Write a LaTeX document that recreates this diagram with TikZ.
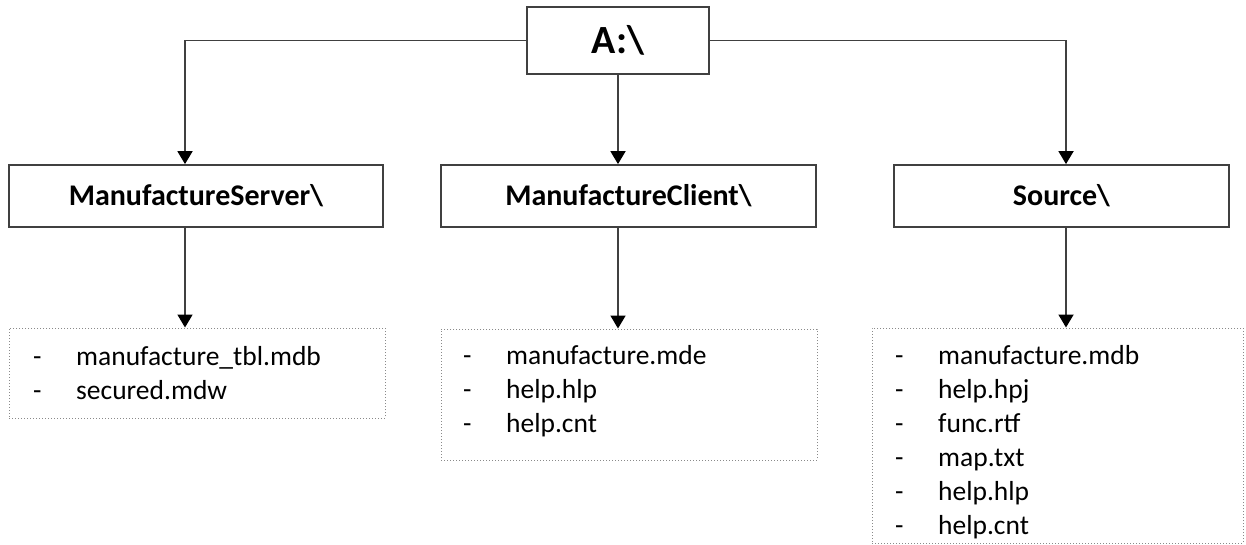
\documentclass[tikz,border=0pt]{standalone}
\usepackage{fontspec}
\setmainfont{Carlito}
\usetikzlibrary{arrows.meta}
\definecolor{boxgray}{HTML}{404040}
\definecolor{linegray}{HTML}{404040}
\definecolor{dotgray}{HTML}{8A8A8A}
\begin{document}
\begin{tikzpicture}[x=1pt,y=-1pt,
  dirbox/.style={draw=boxgray, line width=1.8pt, fill=white, inner sep=0pt,
    font=\bfseries\fontsize{30}{34}\selectfont},
  listbox/.style={draw=dotgray, dotted, line width=1pt, inner sep=0pt},
  listtext/.style={anchor=base west, inner sep=0pt,
    font=\fontsize{27.5}{34}\selectfont},
  link/.style={draw=linegray, line width=1.8pt,
    -{Triangle[width=15pt,length=13pt,color=black]}},
]
\useasboundingbox (0,0) rectangle (1246,544);

% root drive
\node[dirbox, font=\bfseries\fontsize{40}{44}\selectfont,
  minimum width=182pt, minimum height=67pt] (root) at (618,40.5) {A:\textbackslash};

% folders
\node[dirbox, minimum width=374pt, minimum height=62pt] (srv) at (196,196) {ManufactureServer\textbackslash};
\node[dirbox, minimum width=375pt, minimum height=62pt] (cli) at (628.5,196) {ManufactureClient\textbackslash};
\node[dirbox, minimum width=335pt, minimum height=62pt] (src) at (1061.5,196) {Source\textbackslash};

% file lists
\node[listbox, minimum width=376pt, minimum height=90pt] (srvl) at (197,373) {};
\node[listbox, minimum width=376pt, minimum height=131pt] (clil) at (629,394.5) {};
\node[listbox, minimum width=371pt, minimum height=215pt] (srcl) at (1057.5,435.5) {};

\node[listtext] (srvt) at (33,365) {\begin{tabular}[t]{@{}p{43pt}@{}l@{}}
- & manufacture\_tbl.mdb\\
- & secured.mdw
\end{tabular}};
\node[listtext] (clit) at (463,364) {\begin{tabular}[t]{@{}p{43pt}@{}l@{}}
- & manufacture.mde\\
- & help.hlp\\
- & help.cnt
\end{tabular}};
\node[listtext] (srct) at (895,364) {\begin{tabular}[t]{@{}p{43pt}@{}l@{}}
- & manufacture.mdb\\
- & help.hpj\\
- & func.rtf\\
- & map.txt\\
- & help.hlp\\
- & help.cnt
\end{tabular}};

% connectors
\coordinate (lx) at (185,0);
\coordinate (rx) at (1066,0);
\draw[link] (root.west) -| (srv.north -| lx);
\draw[link] (root.south) -- (cli.north -| root.south);
\draw[link] (root.east) -| (src.north -| rx);
\draw[link] (srv.south -| lx) -- (srvl.north -| lx);
\draw[link] (cli.south -| root.south) -- (clil.north -| root.south);
\draw[link] (src.south -| rx) -- (srcl.north -| rx);
\end{tikzpicture}
\end{document}
